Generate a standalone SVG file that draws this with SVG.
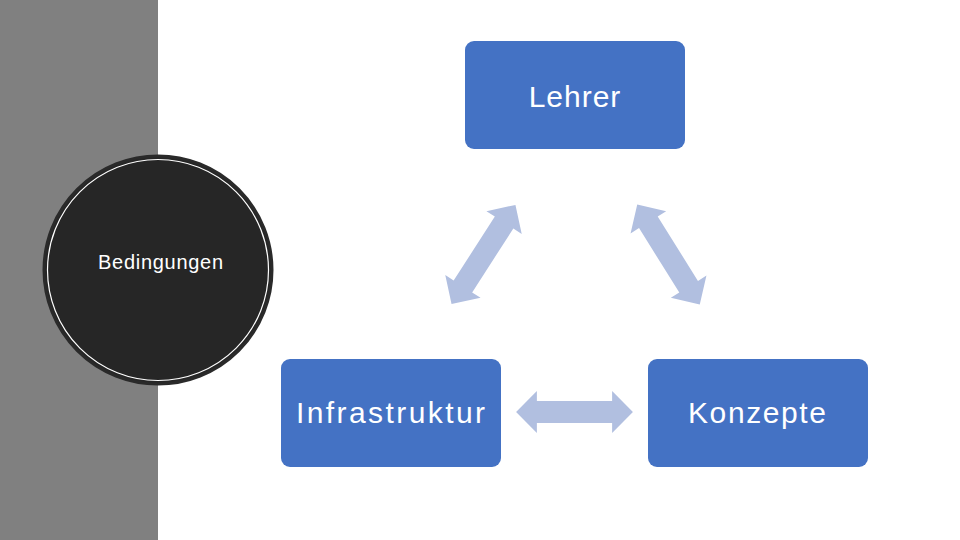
<svg xmlns="http://www.w3.org/2000/svg" width="960" height="540" viewBox="0 0 960 540">
<style>
.box{fill:#4472c4;}
.lbl{font-family:"Liberation Sans","Open Sans",sans-serif;font-size:30px;fill:#ffffff;text-anchor:middle;letter-spacing:1px;}
.arr{fill:#b1bfe0;}
</style>
<defs>
<path id="dbl" d="M-59,0 L-38,-21 L-38,-11 L38,-11 L38,-21 L59,0 L38,21 L38,11 L-38,11 L-38,21 Z"/>
</defs>
<rect x="0" y="0" width="960" height="540" fill="#ffffff"/>
<rect x="0" y="0" width="158" height="540" fill="#808080"/>
<g id="bedingungen">
<circle cx="158" cy="270" r="114" fill="#262626" stroke="#2a2a2a" stroke-width="3"/>
<circle cx="158" cy="270" r="110.5" fill="none" stroke="#ffffff" stroke-width="1.2"/>
<text x="160.5" y="269" font-family="Liberation Sans, Open Sans, sans-serif" font-size="20" fill="#ffffff" text-anchor="middle" textLength="125" lengthAdjust="spacing">Bedingungen</text>
</g>
<g id="lehrer">
<rect class="box" x="465" y="41" width="220" height="108" rx="9"/>
<text class="lbl" x="575" y="107">Lehrer</text>
</g>
<g id="infrastruktur">
<rect class="box" x="281" y="359" width="220" height="108" rx="9"/>
<text class="lbl" x="391" y="423" textLength="190" lengthAdjust="spacing">Infrastruktur</text>
</g>
<g id="konzepte">
<rect class="box" x="648" y="359" width="220" height="108" rx="9"/>
<text class="lbl" x="757.5" y="423" textLength="139" lengthAdjust="spacing">Konzepte</text>
</g>
<g id="connectors">
<use href="#dbl" class="arr" transform="translate(483.5,254.5) rotate(-57.2)"/>
<use href="#dbl" class="arr" transform="translate(668.5,254.5) rotate(58)"/>
<use href="#dbl" class="arr" transform="translate(574.5,412) scale(0.99,1)"/>
</g>
</svg>
